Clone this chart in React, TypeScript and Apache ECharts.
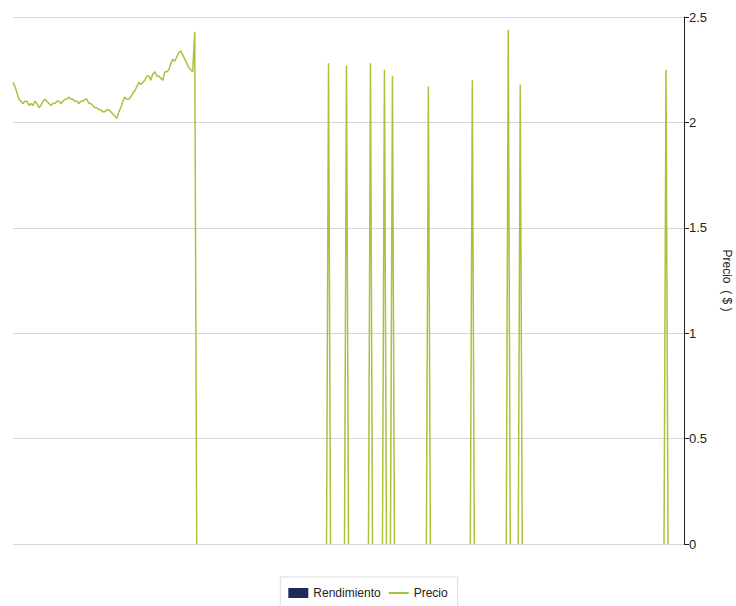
import React, { useEffect, useRef } from "react";
import * as echarts from "echarts";

// Number of daily points on the horizontal (category) axis
const POINT_COUNT = 337;

// Price values read from the continuous left segment (index 0 onward)
const priceHead: number[] = [
  2.19, 2.17, 2.14, 2.11, 2.1, 2.09, 2.1, 2.1, 2.08, 2.09,
  2.08, 2.1, 2.09, 2.07, 2.08, 2.1, 2.11, 2.1, 2.09, 2.08,
  2.09, 2.09, 2.1, 2.1, 2.09, 2.1, 2.11, 2.11, 2.12, 2.11,
  2.11, 2.1, 2.1, 2.09, 2.1, 2.1, 2.11, 2.11, 2.09, 2.09,
  2.08, 2.07, 2.07, 2.06, 2.06, 2.05, 2.05, 2.06, 2.06, 2.05,
  2.04, 2.03, 2.02, 2.05, 2.07, 2.1, 2.12, 2.11, 2.11, 2.12,
  2.14, 2.15, 2.17, 2.19, 2.18, 2.19, 2.2, 2.22, 2.22, 2.2,
  2.23, 2.24, 2.22, 2.22, 2.21, 2.2, 2.24, 2.24, 2.25, 2.28,
  2.3, 2.29, 2.31, 2.33, 2.34, 2.32, 2.3, 2.28, 2.26, 2.25,
  2.24, 2.43, 0,
];

// Isolated price spikes (index on the axis, price)
const spikeIndex: number[] = [158, 167, 179, 186, 190, 208, 230, 248, 254, 327];
const spikeValue: number[] = [2.28, 2.27, 2.28, 2.25, 2.22, 2.17, 2.2, 2.44, 2.18, 2.25];

// Rendimiento has no visible values
const rendimiento: (number | null)[] = [];

const yTicks = { min: 0, max: 2.5, interval: 0.5 };

const categories: string[] = Array.from({ length: POINT_COUNT }, (_, i) => String(i + 1));

function buildPrice(): (number | null)[] {
  const out: (number | null)[] = new Array(POINT_COUNT).fill(null);
  priceHead.forEach((v, i) => (out[i] = v));
  spikeIndex.forEach((idx, k) => {
    out[idx - 1] = 0;
    out[idx] = spikeValue[k];
    out[idx + 1] = 0;
  });
  return out;
}

const GREEN = "#a9c23c";
const NAVY = "#1c2b57";
const FONT = "'Liberation Sans Narrow', 'Arial Narrow', 'Liberation Sans', sans-serif";

export default function App() {
  const ref = useRef<HTMLDivElement>(null);

  useEffect(() => {
    document.body.style.margin = "0";
    if (!ref.current) return;
    const chart = echarts.init(ref.current, undefined, { renderer: "svg" });
    chart.setOption({
      animation: false,
      backgroundColor: "#ffffff",
      grid: {
        left: 13,
        right: 52,
        top: 17,
        bottom: 62,
        containLabel: false,
        outerBoundsMode: "none",
      },
      legend: {
        left: "center",
        top: 577,
        orient: "horizontal",
        borderColor: "#dcdcdc",
        borderWidth: 1,
        padding: [10, 10, 10, 8],
        itemWidth: 20,
        itemHeight: 10,
        itemGap: 8,
        textStyle: { fontFamily: FONT, fontSize: 12, color: "#222" },
        data: [
          { name: "Rendimiento", icon: "rect" },
          { name: "Precio", icon: "path://M0,0 L20,0 L20,2 L0,2 Z" },
        ],
      },
      xAxis: {
        type: "category",
        data: categories,
        boundaryGap: false,
        axisLine: { show: false },
        axisTick: { show: false },
        axisLabel: { show: false },
        splitLine: { show: false },
      },
      yAxis: {
        type: "value",
        position: "right",
        min: yTicks.min,
        max: yTicks.max,
        interval: yTicks.interval,
        name: "Precio  ( $ )",
        nameLocation: "middle",
        nameRotate: -90,
        nameGap: 37,
        nameTextStyle: { fontFamily: FONT, fontSize: 12, color: "#222" },
        axisLine: { show: true, lineStyle: { color: "#222", width: 1 } },
        axisTick: { show: true, inside: false, length: 5, lineStyle: { color: "#222" } },
        axisLabel: {
          fontFamily: FONT,
          fontSize: 13,
          color: "#222",
          margin: 5,
          formatter: (v: number) => String(v),
        },
        splitLine: { show: true, lineStyle: { color: "#d6d6d6", width: 1 } },
      },
      series: [
        {
          name: "Rendimiento",
          type: "bar",
          data: rendimiento,
          itemStyle: { color: NAVY },
        },
        {
          name: "Precio",
          type: "line",
          data: buildPrice(),
          showSymbol: false,
          symbol: "none",
          connectNulls: false,
          lineStyle: { color: GREEN, width: 1.5 },
          itemStyle: { color: GREEN },
        },
      ],
    });
    return () => chart.dispose();
  }, []);

  return <div ref={ref} style={{ width: 736, height: 606 }} />;
}
